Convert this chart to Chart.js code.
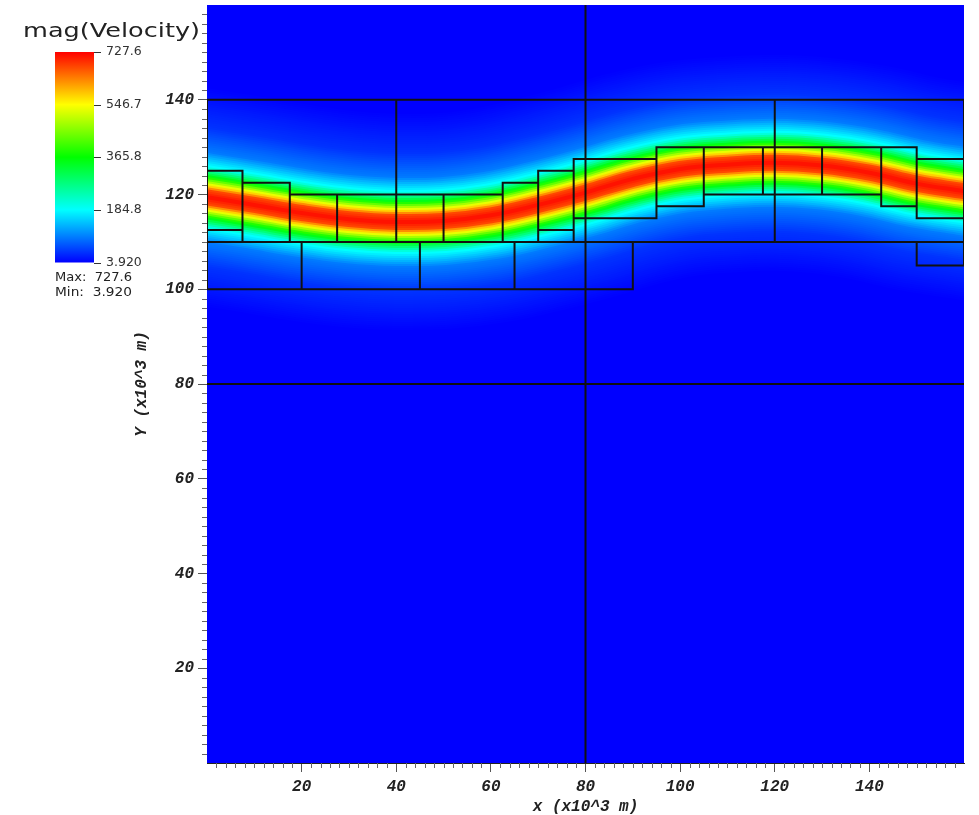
<!DOCTYPE html>
<html>
<head>
<meta charset="utf-8">
<script src="https://cdn.jsdelivr.net/npm/chart.js@4.4.1/dist/chart.umd.min.js"></script>
<style>
  html, body { margin: 0; padding: 0; background: #fff; }
  canvas { display: block; }
</style>
</head>
<body>
<canvas id="velChart" width="979" height="815"></canvas>
<script>
  /* data (x, y in 10^3 m) */
  const axisTicks = [20, 40, 60, 80, 100, 120, 140];

  // centre line of the jet (where the field is at its max)
  const jetX = [0, 10, 20, 30, 40, 50, 60, 70, 80, 90, 100, 110, 120, 130, 140, 150, 160];
  const jetY = [119.4, 117.8, 116.1, 114.8, 114.2, 114.4, 115.6, 117.8, 120.4, 123.3, 125.4, 126.3, 126.7, 126.1, 124.6, 122.3, 120.7];

  // mesh: level 0 lines [x0, y0, x1, y1]
  const level0Lines = [
    [80, 0, 80, 160],
    [0, 80, 160, 80]
  ];
  // level 1 patches [x0, x1, y0, y1]
  const level1Boxes = [
    [0, 20, 100, 110], [20, 45, 100, 110], [45, 65, 100, 110], [65, 90, 100, 110],
    [0, 40, 110, 140], [40, 80, 110, 140], [80, 120, 110, 140], [120, 160, 110, 140],
    [150, 160, 105, 110]
  ];
  // level 2 patches [x0, x1, y0, y1]
  const level2Boxes = [
    [0, 7.5, 112.5, 125], [0, 7.5, 110, 112.5], [7.5, 17.5, 110, 122.5],
    [17.5, 27.5, 110, 120], [27.5, 40, 110, 120], [40, 50, 110, 120],
    [50, 62.5, 110, 120], [62.5, 70, 110, 122.5], [70, 77.5, 112.5, 125],
    [70, 77.5, 110, 112.5], [77.5, 95, 115, 127.5], [95, 105, 117.5, 130],
    [105, 117.5, 120, 130], [117.5, 130, 120, 130], [130, 142.5, 120, 130],
    [142.5, 150, 117.5, 130], [150, 160, 115, 127.5]
  ];

  // colour bar
  const cbarTitle = 'mag(Velocity)';
  const cbarValues = [727.6, 546.7, 365.8, 184.8, 3.920];
  const cbarLabels = ['727.6', '546.7', '365.8', '184.8', '3.920'];
  const velMax = 727.6;
  const velMin = 3.920;

  /* colour table: blue - cyan - green - yellow - red */
  const hotStops = [[0, 0, 255], [0, 255, 255], [0, 255, 0], [255, 255, 0], [255, 0, 0]];
  function hot(t) {
    t = Math.max(0, Math.min(1, t));
    const s = t * 4;
    const i = Math.min(3, Math.floor(s));
    const f = s - i;
    const a = hotStops[i], b = hotStops[i + 1];
    const c = a.map((v, k) => Math.round(v + (b[k] - v) * f));
    return 'rgb(' + c.join(',') + ')';
  }

  // how the jet fades away from its centre (pixels -> fraction of max), style only
  const fade = [[0, 1], [8, 0.93], [13, 0.76], [21, 0.5], [31, 0.26], [46, 0.12], [70, 0.05], [110, 0]];
  function fadeAt(d) {
    for (let i = 1; i < fade.length; i++) {
      if (d <= fade[i][0]) {
        const f = (d - fade[i - 1][0]) / (fade[i][0] - fade[i - 1][0]);
        return fade[i - 1][1] + (fade[i][1] - fade[i - 1][1]) * f;
      }
    }
    return 0;
  }

  const jetPoints = jetX.map((x, i) => ({ x: x, y: jetY[i] }));
  const jetLayers = [];
  for (let d = 110; d >= 1; d -= 2) {
    jetLayers.push({
      data: jetPoints,
      borderColor: hot(fadeAt(d)),
      borderWidth: 2 * d,
      borderCapStyle: 'square',
      pointRadius: 0,
      tension: 0.4,
      clip: 0,
      order: d
    });
  }

  const monoFont = { family: 'Liberation Mono', weight: 'bold', style: 'italic', size: 16 };

  const fieldBackground = {
    id: 'fieldBackground',
    beforeDatasetsDraw(chart) {
      const { ctx, chartArea: a } = chart;
      ctx.save();
      ctx.fillStyle = hot(0);
      ctx.fillRect(a.left, a.top, a.right - a.left, a.bottom - a.top);
      ctx.restore();
    }
  };

  const meshLines = {
    id: 'meshLines',
    afterDatasetsDraw(chart) {
      const { ctx, chartArea: a, scales: { x, y } } = chart;
      ctx.save();
      ctx.beginPath();
      ctx.rect(a.left, a.top, a.right - a.left, a.bottom - a.top);
      ctx.clip();
      ctx.strokeStyle = '#111';
      ctx.lineWidth = 2;
      ctx.beginPath();
      level0Lines.forEach(l => {
        ctx.moveTo(x.getPixelForValue(l[0]), y.getPixelForValue(l[1]));
        ctx.lineTo(x.getPixelForValue(l[2]), y.getPixelForValue(l[3]));
      });
      level1Boxes.concat(level2Boxes).forEach(b => {
        const x0 = x.getPixelForValue(b[0]), x1 = x.getPixelForValue(b[1]);
        const y0 = y.getPixelForValue(b[2]), y1 = y.getPixelForValue(b[3]);
        ctx.rect(x0, y1, x1 - x0, y0 - y1);
      });
      ctx.stroke();
      ctx.restore();
    }
  };

  const minorTicks = {
    id: 'minorTicks',
    afterDraw(chart) {
      const { ctx, chartArea: a, scales: { x, y } } = chart;
      ctx.save();
      ctx.strokeStyle = '#666';
      ctx.lineWidth = 1;
      ctx.beginPath();
      for (let v = 2; v < 160; v += 2) {
        if (v % 20 === 0) continue;
        const px = Math.round(x.getPixelForValue(v)) + 0.5;
        ctx.moveTo(px, a.bottom);
        ctx.lineTo(px, a.bottom + 5);
        const py = Math.round(y.getPixelForValue(v)) + 0.5;
        ctx.moveTo(a.left, py);
        ctx.lineTo(a.left - 5, py);
      }
      ctx.stroke();
      ctx.restore();
    }
  };

  function fitText(ctx, text, x, y, width) {
    const w = ctx.measureText(text).width;
    ctx.save();
    ctx.translate(x, y);
    ctx.scale(width / w, 1);
    ctx.fillText(text, 0, 0);
    ctx.restore();
  }

  const colorBar = {
    id: 'colorBar',
    afterDraw(chart) {
      const ctx = chart.ctx;
      const left = 55, top = 52, w = 39, h = 210.5;
      ctx.save();
      const g = ctx.createLinearGradient(0, top + h, 0, top);
      hotStops.forEach((c, i) => g.addColorStop(i / 4, 'rgb(' + c.join(',') + ')'));
      ctx.fillStyle = g;
      ctx.fillRect(left, top, w, h);

      ctx.strokeStyle = '#333';
      ctx.lineWidth = 1;
      ctx.fillStyle = '#333';
      ctx.font = '12.5px "DejaVu Sans"';
      ctx.textBaseline = 'middle';
      ctx.beginPath();
      cbarValues.forEach((v, i) => {
        const py = top + h - (v - velMin) / (velMax - velMin) * h;
        ctx.moveTo(left + w, Math.round(py) + 0.5);
        ctx.lineTo(left + w + 7, Math.round(py) + 0.5);
        ctx.fillText(cbarLabels[i], left + w + 12, py);
      });
      ctx.stroke();

      ctx.textBaseline = 'alphabetic';
      ctx.fillStyle = '#222';
      ctx.font = '500 20px "DejaVu Sans"';
      fitText(ctx, cbarTitle, 23, 37, 177);
      ctx.font = '12.5px "DejaVu Sans"';
      fitText(ctx, 'Max:  ' + cbarLabels[0], 55, 281, 77);
      fitText(ctx, 'Min:  ' + cbarLabels[4], 55, 296, 77);
      ctx.restore();
    }
  };

  const config = {
    type: 'line',
    data: { datasets: jetLayers },
    options: {
      responsive: false,
      animation: false,
      devicePixelRatio: 1,
      layout: { padding: { left: 125, top: 5, right: 15, bottom: 0 } },
      plugins: {
        legend: { display: false },
        tooltip: { enabled: false }
      },
      scales: {
        x: {
          type: 'linear',
          min: 0,
          max: 160,
          afterFit: s => { s.height = 52; s.paddingLeft = 0; s.paddingRight = 0; },
          afterBuildTicks: s => { s.ticks = axisTicks.map(v => ({ value: v })); },
          grid: { drawOnChartArea: false, tickLength: 9, tickColor: '#555', tickWidth: 1 },
          border: { display: true, color: '#222', width: 1 },
          ticks: { color: '#222', font: monoFont, padding: 5, maxRotation: 0 },
          title: { display: true, text: 'x (x10^3 m)', color: '#222', font: monoFont, padding: { top: 0, bottom: -2 } }
        },
        y: {
          type: 'linear',
          min: 0,
          max: 160,
          afterFit: s => { s.width = 82; s.paddingTop = 0; s.paddingBottom = 0; },
          afterBuildTicks: s => { s.ticks = axisTicks.map(v => ({ value: v })); },
          grid: { drawOnChartArea: false, tickLength: 9, tickColor: '#555', tickWidth: 1 },
          border: { display: true, color: '#222', width: 1 },
          ticks: { color: '#222', font: monoFont, padding: 4 },
          title: { display: true, text: 'Y (x10^3 m)', color: '#222', font: monoFont, padding: { top: 7, bottom: 0 } }
        }
      }
    },
    plugins: [fieldBackground, meshLines, minorTicks, colorBar]
  };

  const velChart = new Chart(
    document.getElementById('velChart'),
    config
  );
</script>
</body>
</html>
